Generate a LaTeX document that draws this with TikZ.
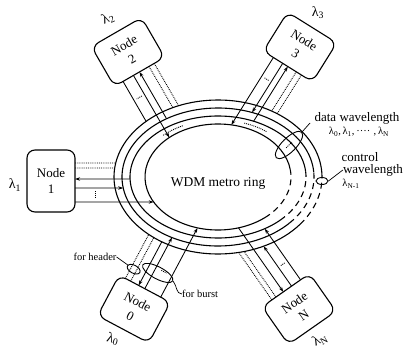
\documentclass[tikz,border=0pt]{standalone}
\usepackage{fontspec}
\setmainfont{Liberation Serif}
\usetikzlibrary{calc,intersections,arrows.meta,shapes.geometric}
% ring: #1 name, #2 a, #3 b, #4 dashed from (neg angle), #5 dashed to
\newcommand{\wdmring}[5]{%
  \path[name path=#1] (rc) ellipse [x radius=#2pt, y radius=#3pt];
  \draw[ringline] ($(rc)+(#5:#2 and #3)$) arc[start angle=#5, end angle={360+(#4)}, x radius=#2pt, y radius=#3pt];
  \draw[ringline, dash pattern=on 6pt off 4.5pt] ($(rc)+(#4:#2 and #3)$) arc[start angle=#4, end angle=#5, x radius=#2pt, y radius=#3pt];
}
% lead: #1 centre, #2 direction, #3 lateral offset, #4 ring, #5 style, #6 half size
\newcommand{\wdmlead}[6]{%
  \path[name path=leadpath] ($(#1)+(#2+90:#3)+(#2:#6)$) -- ++(#2:230);
  \draw[leadline,#5,name intersections={of=leadpath and #4, sort by=leadpath}]
    ($(#1)+(#2+90:#3)+(#2:#6)$) -- (intersection-1);
}
% dots across leads: #1 centre, #2 direction, #3 distance, #4 #5 lateral span
\newcommand{\wdmdots}[5]{%
  \draw[dotmark] ($(#1)+(#2:#3)+(#2+90:#4)$) -- ($(#1)+(#2:#3)+(#2+90:#5)$);
}
\begin{document}
\begin{tikzpicture}[x=1pt,y=1pt,
  ringline/.style={line width=1.1pt},
  leadline/.style={line width=0.85pt},
  hdr/.style={densely dotted, line width=0.9pt},
  tr/.style={-{Stealth[length=5pt,width=3.4pt]}},
  tb/.style={{Stealth[length=5pt,width=3.4pt]}-},
  dotmark/.style={densely dotted, line width=0.9pt},
  nodebox/.style={draw, line width=1.1pt, rounded corners=8pt, fill=white,
    minimum width=58pt, minimum height=46pt, align=center, inner sep=1pt,
    font=\fontsize{13}{16}\selectfont},
  lbl/.style={font=\fontsize{13}{15}\selectfont, inner sep=0pt},
  smalllbl/.style={font=\fontsize{10.5}{12}\selectfont, inner sep=0pt},
  tinylbl/.style={font=\fontsize{10.5}{12}\selectfont, inner sep=0pt},
  lamlbl/.style={font=\fontsize{14}{16}\selectfont, inner sep=0pt},
  oval/.style={draw, ellipse, inner sep=0pt, line width=0.9pt},
  leader/.style={line width=0.7pt}]
\fill[white] (0,0) rectangle (406,349);
\useasboundingbox (0,0) rectangle (406,349);
\coordinate (rc) at (218,172);
\wdmring{r1}{73}{53}{-50}{8}
\wdmring{r2}{88}{61}{-45}{5}
\wdmring{r3}{96}{69}{-42}{4}
\wdmring{r4}{104}{77}{-38}{3}
% dotted arcs between rings
\draw[dotmark] ($(rc)+(116:80.5 and 57)$) arc[start angle=116, end angle=133, x radius=80.5pt, y radius=57pt];
\draw[dotmark] ($(rc)+(53:80.5 and 57)$) arc[start angle=53, end angle=71, x radius=80.5pt, y radius=57pt];

\coordinate (c1) at (51,168);
\coordinate (c2) at (128,297);
\coordinate (c3) at (300,302);
\coordinate (c0) at (134,40);
\coordinate (cN) at (299,40);

% node 1 leads
\wdmlead{c1}{0}{18}{r4}{hdr}{24}
\wdmlead{c1}{0}{13}{r4}{hdr}{24}
\wdmlead{c1}{0}{2}{r2}{tb}{24}
\wdmlead{c1}{0}{-7}{r3}{tr}{24}
\wdmlead{c1}{0}{-21}{r1}{tr}{24}
\wdmdots{c1}{0}{44}{-10}{-17}
% node 2 leads
\wdmlead{c2}{-60}{-19}{r4}{}{23}
\wdmlead{c2}{-60}{-7}{r1}{tr}{23}
\wdmlead{c2}{-60}{0}{r3}{tb}{23}
\wdmlead{c2}{-60}{11}{r4}{hdr}{23}
\wdmlead{c2}{-60}{17}{r4}{hdr}{23}
\wdmdots{c2}{-60}{45}{-10}{-16}
% node 3 leads
\wdmlead{c3}{-122}{-17}{r1}{tr}{23}
\wdmlead{c3}{-122}{-6}{r3}{tr}{23}
\wdmlead{c3}{-122}{0}{r2}{tb}{23}
\wdmlead{c3}{-122}{10}{r4}{hdr}{23}
\wdmlead{c3}{-122}{16}{r4}{hdr}{23}
\wdmdots{c3}{-122}{45}{-9}{-14}
% node 0 leads
\wdmlead{c0}{62}{22}{r4}{hdr}{23}
\wdmlead{c0}{62}{16}{r4}{hdr}{23}
\wdmlead{c0}{62}{7}{r4}{tb}{23}
\wdmlead{c0}{62}{0}{r3}{tr}{23}
\wdmlead{c0}{62}{-18}{r1}{tr}{23}
\wdmdots{c0}{62}{47}{-6}{-12}
% node N leads
\wdmlead{cN}{125}{17}{r4}{hdr}{23}
\wdmlead{cN}{125}{12}{r4}{hdr}{23}
\wdmlead{cN}{125}{3}{r1}{tb}{23}
\wdmlead{cN}{125}{-7}{r4}{tr}{23}
\wdmlead{cN}{125}{-18}{r2}{tr}{23}
\wdmdots{cN}{125}{46}{-10}{-15}

% nodes
\node[nodebox, minimum width=48pt, minimum height=62pt] (n1) at (c1) {Node\\1};
\node[nodebox, rotate=30] (n2) at (c2) {Node\\2};
\node[nodebox, rotate=-32] (n3) at (c3) {Node\\3};
\node[nodebox, rotate=-28] (n0) at (c0) {Node\\0};
\node[nodebox, rotate=35] (nN) at (cN) {Node\\N};

% wavelength labels of nodes
\node[lamlbl] (l1) at (15,164) {λ\textsubscript{1}};
\node[lamlbl, rotate=25] (l2) at (108,331) {λ\textsubscript{2}};
\node[lamlbl] (l3) at (318,336) {λ\textsubscript{3}};
\node[lamlbl, rotate=-15] (l0) at (113,10) {λ\textsubscript{0}};
\node[lamlbl, rotate=30] (lN) at (320,9) {λ\textsubscript{N}};

% centre label
\node[font=\fontsize{13.5}{15}\selectfont] (wdm) at (218,166) {WDM metro ring};

% data wavelength
\node[oval, rotate=45, minimum width=36pt, minimum height=14pt] (doval) at (289,204) {};
\draw[dotmark] ($(doval.center)+(45:-4)$) -- ($(doval.center)+(45:4)$);
\node[lbl] (dw) at (357,231) {data wavelength};
\node[smalllbl] (lam) at (359,217) {λ\textsubscript{0},\,λ\textsubscript{1},\,····\,\,,\,λ\textsubscript{N}};
\coordinate (dwtip) at (310,226);
\draw[leader] (doval.east) -- (dwtip);

% control wavelength
\node[oval, minimum width=12pt, minimum height=7pt] (coval) at (322,168) {};
\node[lbl] (ctl) at (360,192) {control};
\node[lbl] (wl) at (373,179) {wavelength};
\node[smalllbl] (lnm) at (351,165) {λ\textsubscript{N-1}};
\draw[leader] (coval.east) -- (wl.west);

% header / burst
\node[oval, rotate=-28, minimum width=14pt, minimum height=8pt] (hov) at ($(c0)+(62:35)+(152:19)$) {};
\node[oval, rotate=-28, minimum width=34pt, minimum height=12pt] (bov) at ($(c0)+(62:43)+(152:-4)$) {};
\node[tinylbl] (fh) at (95,92) {for header};
\node[tinylbl, anchor=west] (fb) at (182,55) {for burst};
\draw[leader] (fh.east) -- (hov);
\draw[leader] (bov.east) to[out=-50, in=180] (fb.west);
\end{tikzpicture}
\end{document}
